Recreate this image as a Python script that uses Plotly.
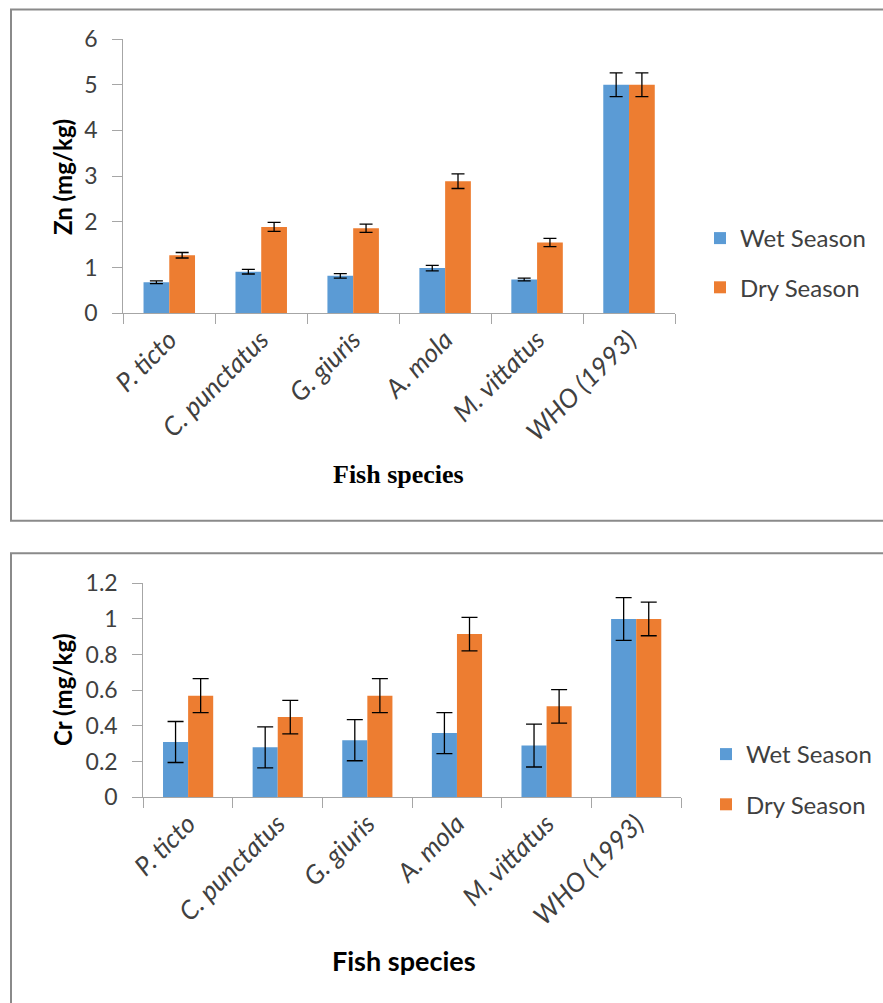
import plotly.graph_objects as go

species = ["P. ticto", "C. punctatus", "G. giuris", "A. mola", "M. vittatus", "WHO (1993)"]

zn_wet = [0.68, 0.91, 0.82, 0.99, 0.74, 5.0]
zn_wet_err = [0.03, 0.05, 0.05, 0.06, 0.03, 0.26]
zn_dry = [1.27, 1.89, 1.86, 2.89, 1.55, 5.0]
zn_dry_err = [0.06, 0.10, 0.09, 0.16, 0.09, 0.26]

cr_wet = [0.31, 0.28, 0.32, 0.36, 0.29, 1.0]
cr_wet_err = [0.115, 0.115, 0.115, 0.115, 0.12, 0.12]
cr_dry = [0.57, 0.45, 0.57, 0.915, 0.51, 1.0]
cr_dry_err = [0.095, 0.094, 0.095, 0.094, 0.094, 0.094]

zn_ticks = [0, 1, 2, 3, 4, 5, 6]
cr_ticks = [0, 0.2, 0.4, 0.6, 0.8, 1.0, 1.2]
cr_ticktext = ["0", "0.2", "0.4", "0.6", "0.8", "1", "1.2"]

BLUE = "#5B9BD5"
ORANGE = "#ED7D31"
W, H = 883, 1003
FONT = "Lato"
TXT = "#404040"
AX = "#a6a6a6"


def px(x):
    return x / W


def py(y):
    return 1 - y / H


fig = go.Figure()

# Top chart (Zn)
fig.add_trace(go.Bar(x=species, y=zn_wet, name="Wet Season", marker=dict(color=BLUE, line=dict(width=0)),
                     error_y=dict(type="data", array=zn_wet_err, color="black", thickness=1.3, width=6.5),
                     xaxis="x", yaxis="y", legend="legend", legendgroup="a"))
fig.add_trace(go.Bar(x=species, y=zn_dry, name="Dry Season", marker=dict(color=ORANGE, line=dict(width=0)),
                     error_y=dict(type="data", array=zn_dry_err, color="black", thickness=1.3, width=6.5),
                     xaxis="x", yaxis="y", legend="legend", legendgroup="b"))
# Bottom chart (Cr)
fig.add_trace(go.Bar(x=species, y=cr_wet, name="Wet Season", marker=dict(color=BLUE, line=dict(width=0)),
                     error_y=dict(type="data", array=cr_wet_err, color="black", thickness=1.3, width=8),
                     xaxis="x2", yaxis="y2", legend="legend2", legendgroup="c"))
fig.add_trace(go.Bar(x=species, y=cr_dry, name="Dry Season", marker=dict(color=ORANGE, line=dict(width=0)),
                     error_y=dict(type="data", array=cr_dry_err, color="black", thickness=1.3, width=8),
                     xaxis="x2", yaxis="y2", legend="legend2", legendgroup="d"))

common_x = dict(type="category", showline=True, linecolor=AX, linewidth=1, ticks="outside",
                tickson="boundaries", ticklen=10, tickcolor=AX, tickangle=-45, automargin=False,
                tickfont=dict(family=FONT, size=26, color=TXT, style="italic"),
                showgrid=False, zeroline=False, fixedrange=True)
common_y = dict(showline=True, linecolor=AX, linewidth=1, ticks="outside", ticklen=10, tickcolor=AX,
                tickfont=dict(family=FONT, size=23, color=TXT), showgrid=False, zeroline=False,
                fixedrange=True, ticklabelstandoff=10, automargin=False)

fig.update_layout(
    width=W, height=H, margin=dict(l=0, r=0, t=0, b=0, autoexpand=False),
    paper_bgcolor="white", plot_bgcolor="white",
    barmode="group", bargap=0.44, bargroupgap=0,
    xaxis=dict(domain=[px(123.3), px(675)], anchor="y", **common_x),
    yaxis=dict(domain=[py(313.3), py(39)], anchor="x", range=[0, 6], tickvals=zn_ticks, **common_y),
    xaxis2=dict(domain=[px(143.3), px(681)], anchor="y2", **common_x),
    yaxis2=dict(domain=[py(797.3), py(583.3)], anchor="x2", range=[0, 1.2], tickvals=cr_ticks,
                ticktext=cr_ticktext, **common_y),
    legend=dict(x=px(700), y=py(216), xanchor="left", yanchor="top", traceorder="grouped",
                tracegroupgap=15, font=dict(family=FONT, size=24, color=TXT), bgcolor="rgba(0,0,0,0)"),
    legend2=dict(x=px(706), y=py(732), xanchor="left", yanchor="top", traceorder="grouped",
                 tracegroupgap=16, font=dict(family=FONT, size=24, color=TXT), bgcolor="rgba(0,0,0,0)"),
    shapes=[
        dict(type="rect", xref="paper", yref="paper", x0=px(11), x1=px(900), y0=py(520.7), y1=py(9.5),
             line=dict(color="#8a8a8a", width=2), fillcolor="rgba(0,0,0,0)", layer="below"),
        dict(type="rect", xref="paper", yref="paper", x0=px(11), x1=px(900), y0=py(1030), y1=py(553.3),
             line=dict(color="#8a8a8a", width=2), fillcolor="rgba(0,0,0,0)", layer="below"),
    ],
    annotations=[
        dict(text="<b>Zn (mg/kg)</b>", xref="paper", yref="paper", x=px(62), y=py(177), textangle=-90,
             showarrow=False, font=dict(family=FONT, size=24, color="black"), xanchor="center", yanchor="middle"),
        dict(text="<b>Cr (mg/kg)</b>", xref="paper", yref="paper", x=px(62), y=py(690), textangle=-90,
             showarrow=False, font=dict(family=FONT, size=24, color="black"), xanchor="center", yanchor="middle"),
        dict(text="<b>Fish species</b>", xref="paper", yref="paper", x=px(398), y=py(475),
             showarrow=False, font=dict(family="Liberation Serif", size=26, color="black"),
             xanchor="center", yanchor="middle"),
        dict(text="<b>Fish species</b>", xref="paper", yref="paper", x=px(404), y=py(960),
             showarrow=False, font=dict(family=FONT, size=27, color="black"),
             xanchor="center", yanchor="middle"),
    ],
)

fig.write_html("out.html")
